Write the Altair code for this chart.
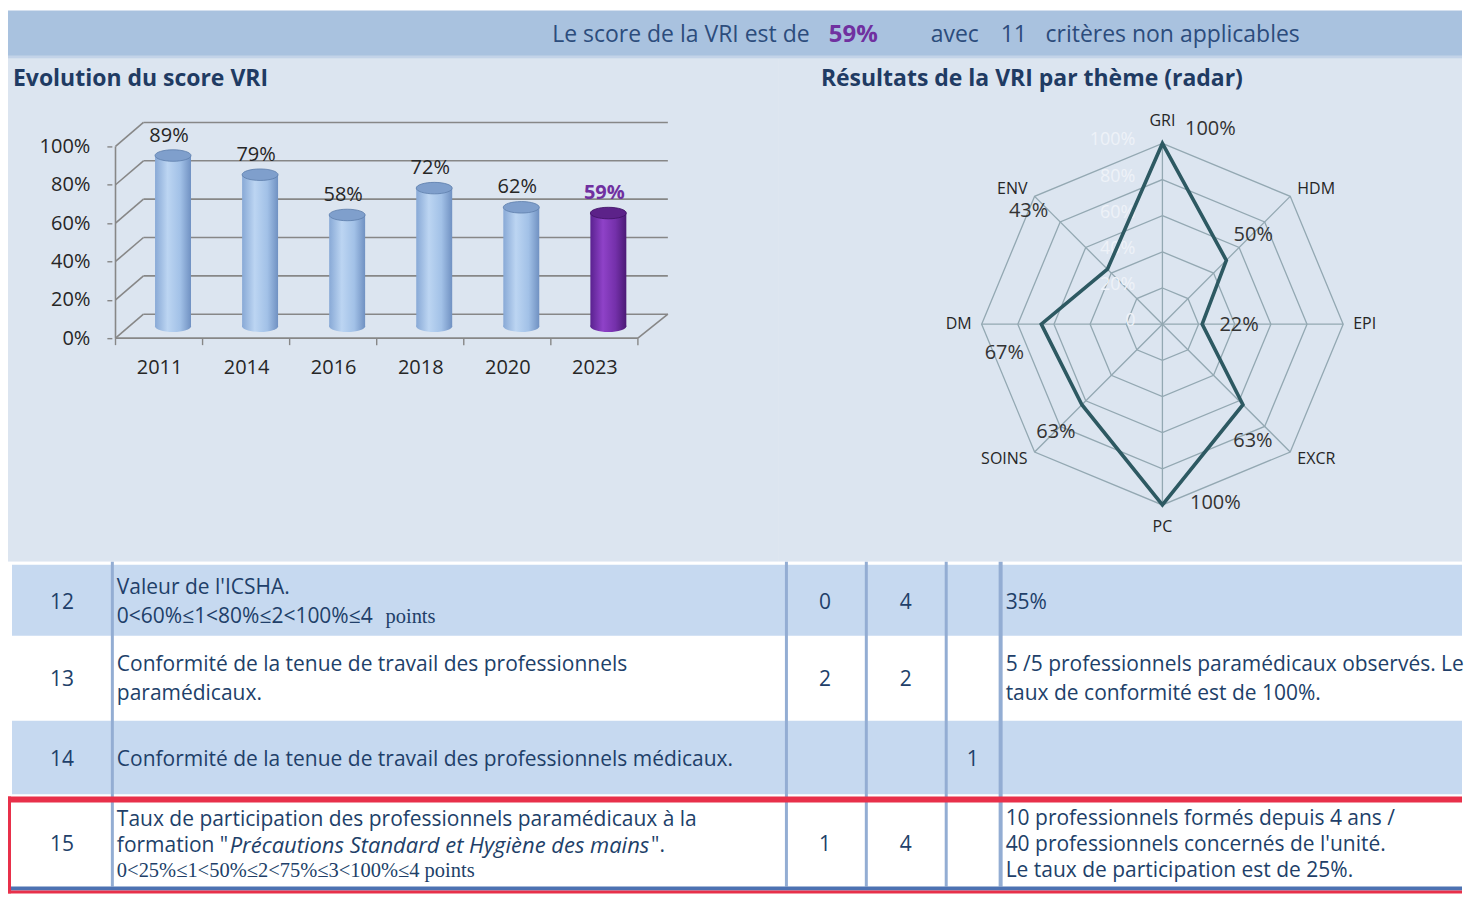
import json
import altair as alt
import pandas as pd

# ======================= DATA =======================
header_parts = ["Le score de la VRI est de", "59%", "avec", "11", "critères non applicables"]
header_emph = [False, True, False, False, False]

bar_title = "Evolution du score VRI"
radar_title = "Résultats de la VRI par thème (radar)"

years = ["2011", "2014", "2016", "2018", "2020", "2023"]
scores = [0.89, 0.79, 0.58, 0.72, 0.62, 0.59]
highlight_year = "2023"
score_ticks = [0.0, 0.2, 0.4, 0.6, 0.8, 1.0]

themes = ["GRI", "HDM", "EPI", "EXCR", "PC", "SOINS", "DM", "ENV"]
theme_scores = [1.00, 0.50, 0.22, 0.63, 1.00, 0.63, 0.67, 0.43]
radar_levels = [0.0, 0.2, 0.4, 0.6, 0.8, 1.0]
radar_level_labels = ["0", "20%", "40%", "60%", "80%", "100%"]

row_ids = ["12", "13", "14", "15"]
row_desc = [
    [[("Valeur de l'ICSHA.", "main")],
     [("0<60%≤1<80%≤2<100%≤4", "main"), ("points", "note")]],
    [[("Conformité de la tenue de travail des professionnels", "main")],
     [("paramédicaux.", "main")]],
    [[("Conformité de la tenue de travail des professionnels médicaux.", "main")]],
    [[("Taux de participation des professionnels paramédicaux à la", "main")],
     [("formation \"", "main"), ("Précautions Standard et Hygiène des mains", "italic"), ("\".", "main")],
     [("0<25%≤1<50%≤2<75%≤3<100%≤4 points", "note")]],
]
col_a = ["0", "2", "", "1"]
col_b = ["4", "2", "", "4"]
col_c = ["", "", "1", ""]
row_comments = [
    ["35%"],
    ["5 /5 professionnels paramédicaux observés. Le", "taux de conformité est de 100%."],
    [],
    ["10 professionnels formés depuis 4 ans /",
     "40 professionnels concernés de l'unité.",
     "Le taux de participation est de 25%."],
]

# ======================= LAYOUT / STYLE =======================
FONT = "Open Sans"
W = 1456
HEADER_H = 48
MID_H = 504
TABLE_H = 332
BAR_W = 772
RADAR_W = W - BAR_W

HEADER_BG = "#a9c2df"
HEADER_STRIPE = "#c3d3e8"
HEADER_TXT = "#2c4c7c"
PURPLE = "#7030a0"
MID_BG = "#dce5f0"
TITLE_TXT = "#1f3b63"
TXT_BLUE = "#213f69"
ROW_BLUE = "#c6d9f0"
COL_LINE = "#93add3"
DARK_BLUE = "#4d72b2"
RED = "#e8304a"
GRID = "#878787"
LABEL_DARK = "#262626"

HEADER_X = [545, 822, 924, 994, 1039]
HEADER_Y = 24

# bar chart geometry (pixels inside the left middle panel)
BAR_AXIS_X = 104
BAR_STEP = 88.33
BAR_ZERO_Y = 280
BAR_PX = 192.0
DEPTH_X = 28
DEPTH_Y = -24
BAR_WIDTH = 36

# radar geometry (pixels inside the right middle panel)
R_PX = 181.0
RC_X = 384.0
RC_Y = 266.0
VAL_DX = [48, 27, 37, 10, 53, -26, -37, -79]
VAL_DY = [-14, -25, 1, 36, -2, 27, 29, -58]

# table geometry (row 15 slightly compressed so the page does not overflow)
TBL_ROWS = [(3, 74), (75, 158), (159, 233), (233, 325)]
TBL_FILLS = [ROW_BLUE, "#ffffff", ROW_BLUE, "#ffffff"]
TBL_ROW_X0 = 4
TBL_COL_LINES = [103, 778, 858, 938, 992]
TBL_COL_LINE_W = [3, 3, 3, 3, 4]
TBL_X = {"id": 54, "desc": 109, "a": 818, "b": 899, "c": 966, "comment": 999}
TBL_DESC_Y = [[26, 55], [103, 132], [198], [259, 285, 310]]
TBL_COMMENT_Y = [[41], [103, 132], [], [258, 284, 310]]
TBL_NUM_Y = [41, 118, 198, 284]
TBL_RUN_X = {(0, 1, 1): 378, (3, 1, 1): 222, (3, 1, 2): 644}
RED_TOP = (235, 241)
BLUE_BOTTOM = (325, 329)

ONE = pd.DataFrame({"_": [0]})


def bg_rect(w, h, color, y0=0):
    return alt.Chart(ONE).mark_rect(color=color, strokeWidth=0).encode(
        x=alt.value(0), x2=alt.value(w), y=alt.value(y0), y2=alt.value(h))


# ======================= HEADER =======================
header_layers = [bg_rect(W, HEADER_H, HEADER_BG),
                 bg_rect(W, HEADER_H, HEADER_STRIPE, y0=HEADER_H - 3)]
for txt, emph, hx in zip(header_parts, header_emph, HEADER_X):
    header_layers.append(
        alt.Chart(ONE).mark_text(
            font=FONT, fontSize=24 if emph else 23,
            fontWeight="bold" if emph else "normal",
            color=PURPLE if emph else HEADER_TXT,
            align="left", baseline="middle",
        ).encode(x=alt.value(hx), y=alt.value(HEADER_Y), text=alt.value(txt))
    )
header = alt.layer(*header_layers).properties(width=W, height=HEADER_H)

# ======================= BAR CHART =======================
n = len(years)
bars_df = pd.DataFrame({
    "year": years,
    "score": scores,
    "idx": [i + 0.5 for i in range(n)],
    "base": [0.0] * n,
    "hl": [y == highlight_year for y in years],
})
ticks_df = pd.DataFrame({"v": score_ticks, "x0": 0.0, "x1": float(n)})
edges_df = pd.DataFrame({"e": [float(i) for i in range(n + 1)], "z": 0.0})
frame_df = pd.DataFrame({"xa": [0.0, 0.0, float(n)], "xb": [0.0, float(n), float(n)],
                         "ya": [0.0, 0.0, 0.0], "yb": [1.0, 0.0, 0.0],
                         "kind": ["front", "front", "side"]})

BX_SCALE = alt.Scale(domain=[-BAR_AXIS_X / BAR_STEP, (BAR_W - BAR_AXIS_X) / BAR_STEP],
                     nice=False, zero=False)
BY_SCALE = alt.Scale(domain=[-(MID_H - BAR_ZERO_Y) / BAR_PX, BAR_ZERO_Y / BAR_PX],
                     nice=False, zero=False)
BX_AXIS = alt.Axis(values=[i + 0.5 for i in range(n)],
                   labelExpr=json.dumps(years) + "[floor(datum.value)]",
                   ticks=False, domain=False, grid=False, labelFont=FONT,
                   labelFontSize=20, labelColor=LABEL_DARK, labelPadding=29,
                   labelBaseline="middle", labelFlush=False, zindex=2,
                   offset=-(MID_H - BAR_ZERO_Y), title=None)
BY_AXIS = alt.Axis(values=score_ticks, format=".0%", domain=False, grid=False,
                   ticks=True, tickSize=5, tickColor=GRID, tickWidth=1.4, labelFont=FONT,
                   labelFontSize=20, labelColor=LABEL_DARK, labelPadding=17,
                   labelFlush=False, zindex=2, offset=-BAR_AXIS_X, title=None)


def bx(f):
    return alt.X(f, type="quantitative", scale=BX_SCALE, axis=BX_AXIS)


def by(f):
    return alt.Y(f, type="quantitative", scale=BY_SCALE, axis=BY_AXIS)


ELLIPSE = "M -1 0 A 1 0.32 0 1 0 1 0 A 1 0.32 0 1 0 -1 0 Z"


def grad(stops):
    return alt.LinearGradient(
        gradient="linear", x1=0, x2=1, y1=0, y2=0,
        stops=[alt.GradientStop(color=c, offset=o) for c, o in stops])


BLUE_GRAD = grad([("#88a9d6", 0), ("#bcd5f2", 0.35), ("#a2c1e7", 0.7), ("#7091c2", 1)])
PURPLE_GRAD = grad([("#5a2290", 0), ("#8f42c8", 0.35), ("#7430aa", 0.7), ("#4c1a75", 1)])

back_wall = alt.Chart(ticks_df).mark_rule(
    color=GRID, strokeWidth=1.6, xOffset=DEPTH_X, x2Offset=DEPTH_X + 2,
    yOffset=DEPTH_Y, y2Offset=DEPTH_Y).encode(
    x=bx("x0"), x2="x1:Q", y=by("v"), y2="v:Q")
diagonals = alt.Chart(ticks_df).mark_rule(
    color=GRID, strokeWidth=1.6, x2Offset=DEPTH_X, y2Offset=DEPTH_Y).encode(
    x=bx("x0"), x2="x0:Q", y=by("v"), y2="v:Q")
front = alt.Chart(frame_df).transform_filter(alt.datum.kind == "front").mark_rule(
    color=GRID, strokeWidth=1.6).encode(x=bx("xa"), x2="xb:Q", y=by("ya"), y2="yb:Q")
side = alt.Chart(frame_df).transform_filter(alt.datum.kind == "side").mark_rule(
    color=GRID, strokeWidth=1.6, x2Offset=DEPTH_X + 2, y2Offset=DEPTH_Y).encode(
    x=bx("xa"), x2="xb:Q", y=by("ya"), y2="yb:Q")
edge_ticks = alt.Chart(edges_df).mark_rule(color=GRID, strokeWidth=1.4, y2Offset=7).encode(
    x=bx("e"), x2="e:Q", y=by("z"), y2="z:Q")


def bar_layers(flag, gradient, top_fill, top_stroke, label_color, label_weight):
    src = alt.Chart(bars_df).transform_filter(alt.datum.hl == flag)
    off = dict(xOffset=DEPTH_X / 2, yOffset=DEPTH_Y / 2)
    bottom_cap = src.mark_point(shape=ELLIPSE, size=BAR_WIDTH ** 2, filled=True,
                                fill=gradient, strokeWidth=0, opacity=1, **off).encode(
        x=bx("idx"), y=by("base"))
    body = src.mark_bar(width=BAR_WIDTH, fill=gradient, strokeWidth=0,
                        y2Offset=DEPTH_Y / 2, **off).encode(
        x=bx("idx"), y=by("score"), y2="base:Q")
    top_cap = src.mark_point(shape=ELLIPSE, size=BAR_WIDTH ** 2, filled=True,
                             fill=top_fill, stroke=top_stroke, strokeWidth=0.8,
                             opacity=1, **off).encode(x=bx("idx"), y=by("score"))
    label = src.mark_text(font=FONT, fontSize=20, color=label_color,
                          fontWeight=label_weight, dx=10, dy=-32,
                          baseline="middle").encode(
        x=bx("idx"), y=by("score"), text=alt.Text("score:Q", format=".0%"))
    return [bottom_cap, body, top_cap, label]


bar_title_layer = alt.Chart(ONE).mark_text(
    font=FONT, fontSize=23, fontWeight="bold", color=TITLE_TXT,
    align="left", baseline="middle").encode(
    x=alt.value(5), y=alt.value(20), text=alt.value(bar_title))

bar_panel = alt.layer(
    bg_rect(BAR_W, MID_H, MID_BG), bar_title_layer,
    back_wall, diagonals, side, front, edge_ticks,
    *bar_layers(False, BLUE_GRAD, "#7f9fcc", "#5d7dab", LABEL_DARK, "normal"),
    *bar_layers(True, PURPLE_GRAD, "#5c2289", "#3f1163", PURPLE, "bold"),
).properties(width=BAR_W, height=MID_H)

# ======================= RADAR =======================
nt = len(themes)
radar_df = pd.DataFrame({"theme": themes, "score": theme_scores, "k": list(range(nt)),
                         "dxp": VAL_DX, "dyp": VAL_DY})
ring_df = pd.DataFrame([{"level": lv, "k": k} for lv in radar_levels if lv > 0
                        for k in range(nt)])
lev_df = pd.DataFrame({"level": radar_levels, "label": radar_level_labels})

RX_SCALE = alt.Scale(domain=[-RC_X / R_PX, (RADAR_W - RC_X) / R_PX], nice=False, zero=False)
RY_SCALE = alt.Scale(domain=[-(MID_H - RC_Y) / R_PX, RC_Y / R_PX], nice=False, zero=False)


def rx(f):
    return alt.X(f, type="quantitative", scale=RX_SCALE, axis=None)


def ry(f):
    return alt.Y(f, type="quantitative", scale=RY_SCALE, axis=None)


ANG = f"PI/2 - datum.k*2*PI/{nt}"


def polar(chart):
    return chart.transform_calculate(ang=ANG).transform_calculate(
        ux="cos(datum.ang)", uy="sin(datum.ang)")


rings = polar(alt.Chart(ring_df)).transform_calculate(
    px="datum.level*datum.ux", py="datum.level*datum.uy").mark_line(
    interpolate="linear-closed", color="#93a8b2", strokeWidth=1.3).encode(
    x=rx("px"), y=ry("py"), detail="level:N", order="k:Q")
spokes = polar(alt.Chart(radar_df)).transform_calculate(zero="0").mark_rule(
    color="#93a8b2", strokeWidth=1.3).encode(
    x=rx("zero"), y=ry("zero"), x2="ux:Q", y2="uy:Q")
faint = alt.Chart(lev_df).transform_calculate(zero="0").mark_text(
    font=FONT, fontSize=18, color="#eef2f8", align="right", baseline="middle",
    dx=-27, dy=-3).encode(x=rx("zero"), y=ry("level"), text="label:N")
data_line = polar(alt.Chart(radar_df)).transform_calculate(
    vx="datum.score*datum.ux", vy="datum.score*datum.uy").mark_line(
    interpolate="linear-closed", color="#2d5962", strokeWidth=3.6).encode(
    x=rx("vx"), y=ry("vy"), order="k:Q")


def theme_labels(cond, align, off_px):
    f = 1 + off_px / R_PX
    return polar(alt.Chart(radar_df)).transform_filter(cond).transform_calculate(
        lx=f"datum.ux*{f}", ly=f"datum.uy*{f}").mark_text(
        font=FONT, fontSize=16, color=LABEL_DARK, align=align, baseline="middle").encode(
        x=rx("lx"), y=ry("ly"), text="theme:N")


lab_left = theme_labels("datum.ux > 0.3", "left", 10)
lab_right = theme_labels("datum.ux < -0.3", "right", 10)
lab_center = theme_labels("abs(datum.ux) <= 0.3", "center", 22)

value_labels = polar(alt.Chart(radar_df)).transform_calculate(
    lx=f"datum.score*datum.ux + datum.dxp/{R_PX}",
    ly=f"datum.score*datum.uy - datum.dyp/{R_PX}").mark_text(
    font=FONT, fontSize=20, color="#333333", align="center", baseline="middle").encode(
    x=rx("lx"), y=ry("ly"), text=alt.Text("score:Q", format=".0%"))

radar_title_layer = alt.Chart(ONE).mark_text(
    font=FONT, fontSize=23, fontWeight="bold", color=TITLE_TXT,
    align="left", baseline="middle").encode(
    x=alt.value(42), y=alt.value(20), text=alt.value(radar_title))

radar_panel = alt.layer(
    bg_rect(RADAR_W, MID_H, MID_BG), radar_title_layer, rings, spokes, faint,
    data_line, lab_left, lab_right, lab_center, value_labels,
).properties(width=RADAR_W, height=MID_H)

middle = alt.hconcat(bar_panel, radar_panel, spacing=0)

# ======================= TABLE =======================
rects = []
for (y0, y1), fcol in zip(TBL_ROWS, TBL_FILLS):
    rects.append(dict(x0=TBL_ROW_X0, x1=W, y0=y0, y1=y1, fill=fcol, z=0))
for cx, cw in zip(TBL_COL_LINES, TBL_COL_LINE_W):
    rects.append(dict(x0=cx, x1=cx + cw, y0=0, y1=TBL_ROWS[-1][1], fill=COL_LINE, z=1))
rects.append(dict(x0=3, x1=W, y0=BLUE_BOTTOM[0], y1=BLUE_BOTTOM[1], fill=DARK_BLUE, z=2))
rects.append(dict(x0=0, x1=W, y0=RED_TOP[0], y1=RED_TOP[1], fill=RED, z=2))
rects.append(dict(x0=0, x1=3, y0=RED_TOP[0], y1=TABLE_H, fill=RED, z=2))
rects.append(dict(x0=0, x1=W, y0=BLUE_BOTTOM[1], y1=TABLE_H, fill=RED, z=2))
rect_df = pd.DataFrame(rects)

cells = []
for i, rid in enumerate(row_ids):
    cells.append(dict(x=TBL_X["id"], y=TBL_NUM_Y[i], text=rid, style="center"))
    for j, line in enumerate(row_desc[i]):
        for r, (txt, st) in enumerate(line):
            x = TBL_X["desc"] if r == 0 else TBL_RUN_X[(i, j, r)]
            cells.append(dict(x=x, y=TBL_DESC_Y[i][j], text=txt, style=st))
    for key, col in (("a", col_a), ("b", col_b), ("c", col_c)):
        if col[i]:
            cells.append(dict(x=TBL_X[key], y=TBL_NUM_Y[i], text=col[i], style="center"))
    for j, line in enumerate(row_comments[i]):
        cells.append(dict(x=TBL_X["comment"], y=TBL_COMMENT_Y[i][j], text=line, style="main"))
cells_df = pd.DataFrame(cells)

TX = alt.Scale(domain=[0, W], nice=False, zero=False)
TY = alt.Scale(domain=[0, TABLE_H], nice=False, zero=False, reverse=True)

table_rects = alt.Chart(rect_df).mark_rect(strokeWidth=0).encode(
    x=alt.X("x0:Q", scale=TX, axis=None), x2="x1:Q",
    y=alt.Y("y0:Q", scale=TY, axis=None), y2="y1:Q",
    color=alt.Color("fill:N", scale=None), order="z:Q")


def tbl_text(style, **mk):
    return alt.Chart(cells_df).transform_filter(alt.datum.style == style).mark_text(
        baseline="middle", color=TXT_BLUE, **mk).encode(
        x=alt.X("x:Q", scale=TX, axis=None), y=alt.Y("y:Q", scale=TY, axis=None),
        text="text:N")


table = alt.layer(
    bg_rect(W, TABLE_H, "#ffffff"),
    table_rects,
    tbl_text("main", font=FONT, fontSize=21, align="left"),
    tbl_text("center", font=FONT, fontSize=21, align="center"),
    tbl_text("italic", font=FONT, fontSize=22, fontStyle="italic", align="left"),
    tbl_text("note", font="Liberation Serif", fontSize=20.5, align="left"),
).properties(width=W, height=TABLE_H)

chart = alt.vconcat(header, middle, table, spacing=0).properties(
    padding={"top": 2, "left": 0, "right": 0, "bottom": 0},
    background="#ffffff",
).configure_view(stroke=None, strokeWidth=0)

chart.save("out.html", embed_options={"renderer": "svg", "actions": False})
